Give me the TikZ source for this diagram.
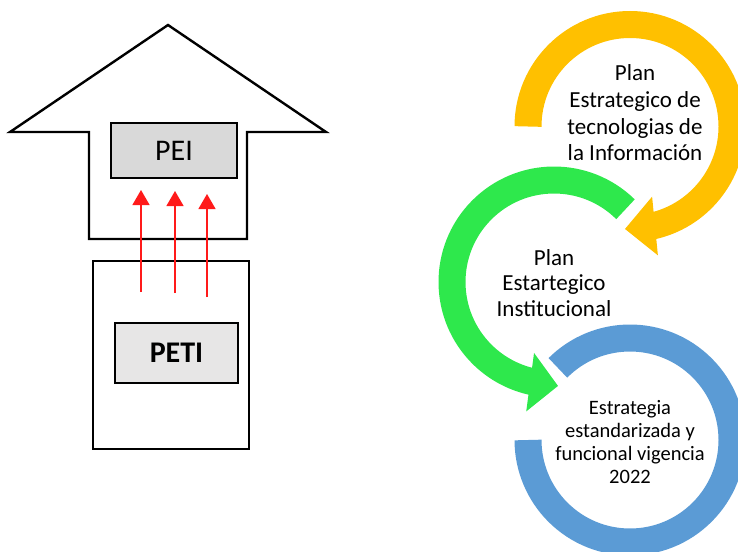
\documentclass[tikz,border=0pt]{standalone}
\usepackage{fontspec}
\setmainfont{Carlito}
\usepackage{xcolor}
\usepackage{tikz}
\usetikzlibrary{calc,arrows.meta}
\definecolor{amarillo}{HTML}{FFC000}
\definecolor{verde}{HTML}{2EE84C}
\definecolor{azul}{HTML}{5B9BD5}
\definecolor{gris}{HTML}{D9D9D9}
\definecolor{grisc}{HTML}{E7E6E6}
\definecolor{rojo}{HTML}{FF1A1A}
\tikzset{
  base/.style={draw=black, line width=2.4pt, line join=miter},
  sube/.style={draw=rojo, line width=1.3pt, -{Triangle[width=17pt,length=15pt]}},
  anillo/.style={line width=27pt, line cap=butt},
  lab/.style={text=black, align=center, inner sep=0pt},
  titulo/.style={inner sep=0pt},
}

\begin{document}
\begin{tikzpicture}[x=1pt,y=-1pt]
  \useasboundingbox (0,0) rectangle (738,551);

  % flecha grande y cajas
  \draw[base] (89,239) -- (89,132) -- (10,132) -- (168,25) -- (326,132) -- (247,132) -- (247,239) -- cycle;
  \node[base, titulo, fill=gris, minimum width=126pt, minimum height=55pt, font=\fontsize{30}{30}\selectfont] (pei) at (174,150.5) {PEI};
  \node[base, minimum width=156pt, minimum height=188pt] (cuerpo) at (171,355) {};
  \node[base, titulo, fill=grisc, minimum width=123pt, minimum height=60pt, font=\fontsize{30}{30}\selectfont\bfseries] (peti) at (176.5,353) {PETI};

  \coordinate (ini1) at (141,292);
  \coordinate (fin1) at (141,190);
  \coordinate (ini2) at (175,293);
  \coordinate (fin2) at (175,191);
  \coordinate (ini3) at (207,297);
  \coordinate (fin3) at (207,194);
  \draw[sube] (ini1) -- (fin1);
  \draw[sube] (ini2) -- (fin2);
  \draw[sube] (ini3) -- (fin3);

  % ciclo
  \coordinate (ca) at (630,126.5);
  \coordinate (cv) at (554,282);
  \coordinate (cz) at (630,440);

  \draw[anillo, draw=azul] ($(cz)+(-135:102)$) arc[start angle=-135, end angle=180, radius=102];

  \draw[anillo, draw=verde] ($(cv)+(-45.5:102)$) arc[start angle=-45.5, end angle=-259, radius=102];
  \coordinate (vb) at ($(cv)+(-256.6:103)$);
  \coordinate (vt) at ($(cv)+(-272.2:104)$);
  \fill[verde] ($(vb)!29.5pt!90:(vt)$) -- (vt) -- ($(vb)!29.5pt!-90:(vt)$) -- cycle;

  \draw[anillo, draw=amarillo] ($(ca)+(180:102)$) arc[start angle=180, end angle=438, radius=102];
  \coordinate (ab) at ($(ca)+(75.9:102.6)$);
  \coordinate (at) at ($(ca)+(92.8:102.6)$);
  \fill[amarillo] ($(ab)!29.5pt!90:(at)$) -- (at) -- ($(ab)!29.5pt!-90:(at)$) -- cycle;

  \node[lab, font=\fontsize{23}{26.7}\selectfont] (tamarillo) at (635,113) {Plan\\Estrategico de\\tecnologias de\\la Información};
  \node[lab, font=\fontsize{23}{25.8}\selectfont] (tverde) at (554,283) {Plan\\Estartegico\\Institucional};
  \node[lab, font=\fontsize{20.5}{23.3}\selectfont] (tazul) at (630,442) {Estrategia\\estandarizada y\\funcional vigencia\\2022};
\end{tikzpicture}
\end{document}
